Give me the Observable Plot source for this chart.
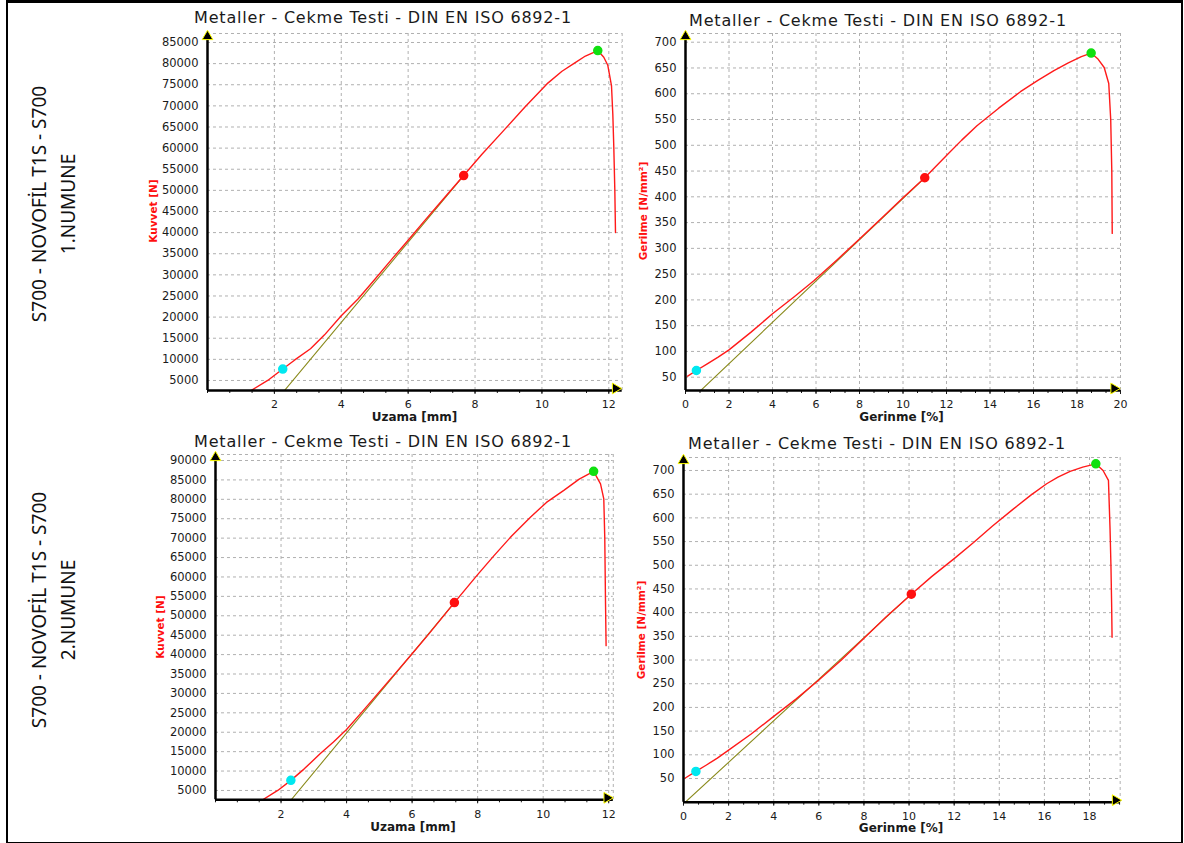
<!DOCTYPE html>
<html>
<head>
<meta charset="utf-8">
<script src="https://cdn.jsdelivr.net/npm/d3@7"></script>
<script src="https://cdn.jsdelivr.net/npm/@observablehq/plot@0.6"></script>
<style>
  html, body { margin: 0; padding: 0; background: #fff; }
  #page { position: relative; width: 1184px; height: 843px; overflow: hidden; background: #fff; }
  .abs { position: absolute; white-space: nowrap; line-height: 1; transform: translate(-50%, -50%); }
  .title { font-family: "DejaVu Sans", sans-serif; font-size: 16px; letter-spacing: 0.8px; color: #1a1a1a; }
  .xlab { font-family: "DejaVu Sans", sans-serif; font-size: 12px; line-height: 10px; font-weight: bold; color: #1a1a1a; }
  .ylab { font-family: "DejaVu Sans", sans-serif; font-size: 10.5px; font-weight: bold; color: #ff1010; transform: translate(-50%, -50%) rotate(-90deg); }
  .side { font-family: "Noto Sans", sans-serif; font-size: 19px; color: #111; transform: translate(-50%, -50%) rotate(-90deg); }
  .frame { position: absolute; left: 6px; top: 0px; width: 1173px; height: 839px; border: 2px solid #000; border-top-width: 3px; }
  .panel { position: absolute; }
</style>
</head>
<body>
<div id="page"><div class="frame"></div></div>
<script>
// ---------- DATA ----------
const chartTitle = "Metaller - Cekme Testi - DIN EN ISO 6892-1";
const sideLine1 = "S700 - NOVOFİL T1S - S700";
const sampleNames = ["1.NUMUNE", "2.NUMUNE"];
const xLabels = ["Uzama [mm]", "Gerinme [%]", "Uzama [mm]", "Gerinme [%]"];
const yLabels = ["Kuvvet [N]", "Gerilme [N/mm²]", "Kuvvet [N]", "Gerilme [N/mm²]"];

// Panel 1: sample 1, force vs elongation
const uzama1  = [1.3, 1.8, 2.25, 2.6, 3.08, 3.5, 4.0, 4.5, 5.0, 5.5, 6.0, 6.5, 7.0, 7.66, 8.2, 8.86, 9.5, 10.15, 10.6, 10.95, 11.3, 11.67, 11.85, 11.97, 12.08, 12.12, 12.15, 12.18, 12.2];
const kuvvet1 = [2600, 5000, 7700, 9800, 12500, 15800, 20300, 24300, 28900, 33600, 38200, 42900, 47500, 53500, 58500, 64200, 69800, 75200, 78200, 80000, 81800, 83100, 81500, 79600, 74800, 68000, 60000, 50000, 40000];
const elastic1 = [[2.3, 2600], [7.66, 53500]];
const points1 = [[2.25, 7700], [7.66, 53500], [11.67, 83100]];

// Panel 2: sample 1, stress vs strain
const gerinme2 = [0.1, 0.5, 1.0, 1.5, 2.0, 3.0, 4.0, 5.0, 5.9, 7.0, 8.0, 9.0, 10.0, 11.0, 12.0, 12.7, 13.4, 14.4, 15.4, 16.2, 16.94, 17.6, 18.2, 18.65, 18.95, 19.25, 19.46, 19.55, 19.6, 19.62];
const gerilme2 = [52, 63, 76, 89, 103, 137, 173, 206, 237, 279, 318, 358, 398, 437, 480, 510, 538, 572, 604, 626, 645, 660, 672, 679, 668, 651, 620, 550, 450, 329];
const elastic2 = [[0.7, 24.2], [11.0, 437]];
const points2 = [[0.5, 63], [11.0, 437], [18.65, 679]];

// Panel 3: sample 2, force vs elongation
const uzama3  = [1.44, 1.9, 2.3, 2.7, 3.2, 3.6, 4.0, 4.5, 5.0, 5.5, 6.0, 6.5, 7.29, 8.0, 8.5, 9.0, 9.61, 10.1, 10.63, 11.1, 11.54, 11.75, 11.85, 11.88, 11.9, 11.92];
const kuvvet3 = [2600, 5000, 7600, 10500, 14500, 17500, 20700, 25500, 30400, 35300, 40200, 45200, 53400, 60600, 65500, 70200, 75400, 79200, 82300, 85200, 87200, 84000, 80100, 70000, 55000, 42300];
const elastic3 = [[2.31, 2600], [7.29, 53400]];
const points3 = [[2.3, 7600], [7.29, 53400], [11.54, 87200]];

// Panel 4: sample 2, stress vs strain
const gerinme4 = [0.08, 0.55, 1.0, 1.5, 2.0, 3.0, 4.0, 5.0, 6.0, 7.0, 8.0, 9.0, 10.1, 11.0, 12.0, 12.86, 13.7, 14.63, 15.4, 16.1, 16.6, 17.14, 17.7, 18.28, 18.6, 18.84, 18.91, 18.95, 18.98, 19.0];
const gerilme4 = [51, 65, 78, 93, 110, 144, 181, 218, 258, 300, 346, 392, 439, 476, 514, 548, 583, 619, 648, 672, 686, 698, 707, 714, 700, 679, 577, 500, 420, 348];
const elastic4 = [[0.08, 0], [10.1, 439]];
const points4 = [[0.55, 65], [10.1, 439], [18.28, 714]];

// ticks
const xTicksMm1 = [2, 4, 6, 8, 10, 12];
const xTicksPct2 = [0, 2, 4, 6, 8, 10, 12, 14, 16, 18, 20];
const xTicksMm3 = [2, 4, 6, 8, 10, 12];
const xTicksPct4 = [0, 2, 4, 6, 8, 10, 12, 14, 16, 18];
const yTicksN1 = d3.range(5000, 85001, 5000);
const yTicksS2 = d3.range(50, 701, 50);
const yTicksN3 = d3.range(5000, 90001, 5000);
const yTicksS4 = d3.range(50, 701, 50);
const pointColors = ["#00e8f0", "#ff1010", "#10e010"];
const axisArrowX = [12.2, 19.7, 11.95, 19.15];

// ---------- LAYOUT ----------
const panels = [
  {px: [207, 621.7, 33, 390], xd: [0, 12.4], yd: [2630, 87130], xt: xTicksMm1, yt: yTicksN1,
   xs: uzama1, ys: kuvvet1, el: elastic1, pts: points1, title: [383, 18], xl: [414.5, 417], yl: [152.5, 211]},
  {px: [685, 1120, 33, 390], xd: [0, 20], yd: [24.2, 716.9], xt: xTicksPct2, yt: yTicksS2,
   xs: gerinme2, ys: gerilme2, el: elastic2, pts: points2, title: [878, 21], xl: [901.5, 417], yl: [643, 211]},
  {px: [215.2, 613, 454, 799.3], xd: [0, 12.14], yd: [2596, 91546], xt: xTicksMm3, yt: yTicksN3,
   xs: uzama3, ys: kuvvet3, el: elastic3, pts: points3, title: [383, 441.5], xl: [413, 826.5], yl: [160, 627]},
  {px: [683.3, 1120, 457, 801.7], xd: [0, 19.36], yd: [0, 727.4], xt: xTicksPct4, yt: yTicksS4,
   xs: gerinme4, ys: gerilme4, el: elastic4, pts: points4, title: [877, 443.5], xl: [901, 828], yl: [641, 630]}
];

const page = document.getElementById("page");
function addText(cls, txt, x, y) {
  const d = document.createElement("div");
  d.className = "abs " + cls;
  d.textContent = txt;
  d.style.left = x + "px";
  d.style.top = y + "px";
  page.appendChild(d);
}

const mL = 90, mR = 14, mT = 14, mB = 45;
panels.forEach((p, i) => {
  const [x0, x1, y0, y1] = p.px;
  const step = p.xt[1] - p.xt[0];
  const minor = d3.range(0, p.xd[1] + 1e-9, step / 3);
  const curve = p.xs.map((x, k) => ({x, y: p.ys[k]}));
  const pts = p.pts.map((d, k) => ({x: d[0], y: d[1], c: pointColors[k]}));
  const svg = Plot.plot({
    width: (x1 - x0) + mL + mR,
    height: (y1 - y0) + mT + mB,
    marginLeft: mL, marginRight: mR, marginTop: mT, marginBottom: mB,
    x: {domain: p.xd},
    y: {domain: p.yd},
    style: {fontFamily: "DejaVu Sans", fontSize: "11.5px", color: "#1a1a1a", background: "transparent", overflow: "visible"},
    marks: [
      Plot.gridX(p.xt.filter(t => t > 0), {stroke: "#b0b0b0", strokeOpacity: 1, strokeDasharray: "3,3"}),
      Plot.gridY(p.yt, {stroke: "#b0b0b0", strokeOpacity: 1, strokeDasharray: "3,3"}),
      Plot.ruleX([p.xd[1]], {stroke: "#b0b0b0", strokeDasharray: "3,3"}),
      Plot.ruleY([p.yd[1]], {stroke: "#b0b0b0", strokeDasharray: "3,3"}),
      Plot.axisY({ticks: p.yt, tickSize: 0, tickPadding: 9, tickFormat: d => String(d), label: null}),
      Plot.axisX({ticks: minor, tickSize: 3, tickFormat: () => "", label: null}),
      Plot.axisX({ticks: p.xt, tickSize: 4, tickPadding: 6, tickFormat: d => String(d), fontSize: 11, label: null}),
      Plot.line(p.el, {x: d => d[0], y: d => d[1], stroke: "#8a8a1c", strokeWidth: 1.1, clip: true}),
      Plot.line(curve, {x: "x", y: "y", stroke: "#ff1a1a", strokeWidth: 1.4, clip: true}),
      Plot.ruleX([p.xd[0]], {stroke: "#000", strokeWidth: 2.5}),
      Plot.ruleY([p.yd[0]], {stroke: "#000", strokeWidth: 2.5}),
      Plot.dot([[p.xd[0], p.yd[1]]], {x: d => d[0], y: d => d[1], symbol: "triangle", r: 4, fill: "#000", stroke: "#ffff00", strokeWidth: 1, dy: 3}),
      Plot.dot([[axisArrowX[i], p.yd[0]]], {x: d => d[0], y: d => d[1], symbol: "triangle", rotate: 90, r: 4, fill: "#000", stroke: "#ffff00", strokeWidth: 1, dy: -2}),
      Plot.dot(pts, {x: "x", y: "y", r: 4, fill: "c", stroke: "c"})
    ]
  });
  const wrap = document.createElement("div");
  wrap.className = "panel";
  wrap.style.left = (x0 - mL) + "px";
  wrap.style.top = (y0 - mT) + "px";
  wrap.appendChild(svg);
  page.appendChild(wrap);
  addText("title", chartTitle, p.title[0], p.title[1]);
  addText("xlab", xLabels[i], p.xl[0], p.xl[1]);
  addText("ylab", yLabels[i], p.yl[0], p.yl[1]);
});

addText("side", sideLine1, 39, 204);
addText("side", sampleNames[0], 68, 204);
addText("side", sideLine1, 39, 610);
addText("side", sampleNames[1], 68, 610);
</script>
</body>
</html>
